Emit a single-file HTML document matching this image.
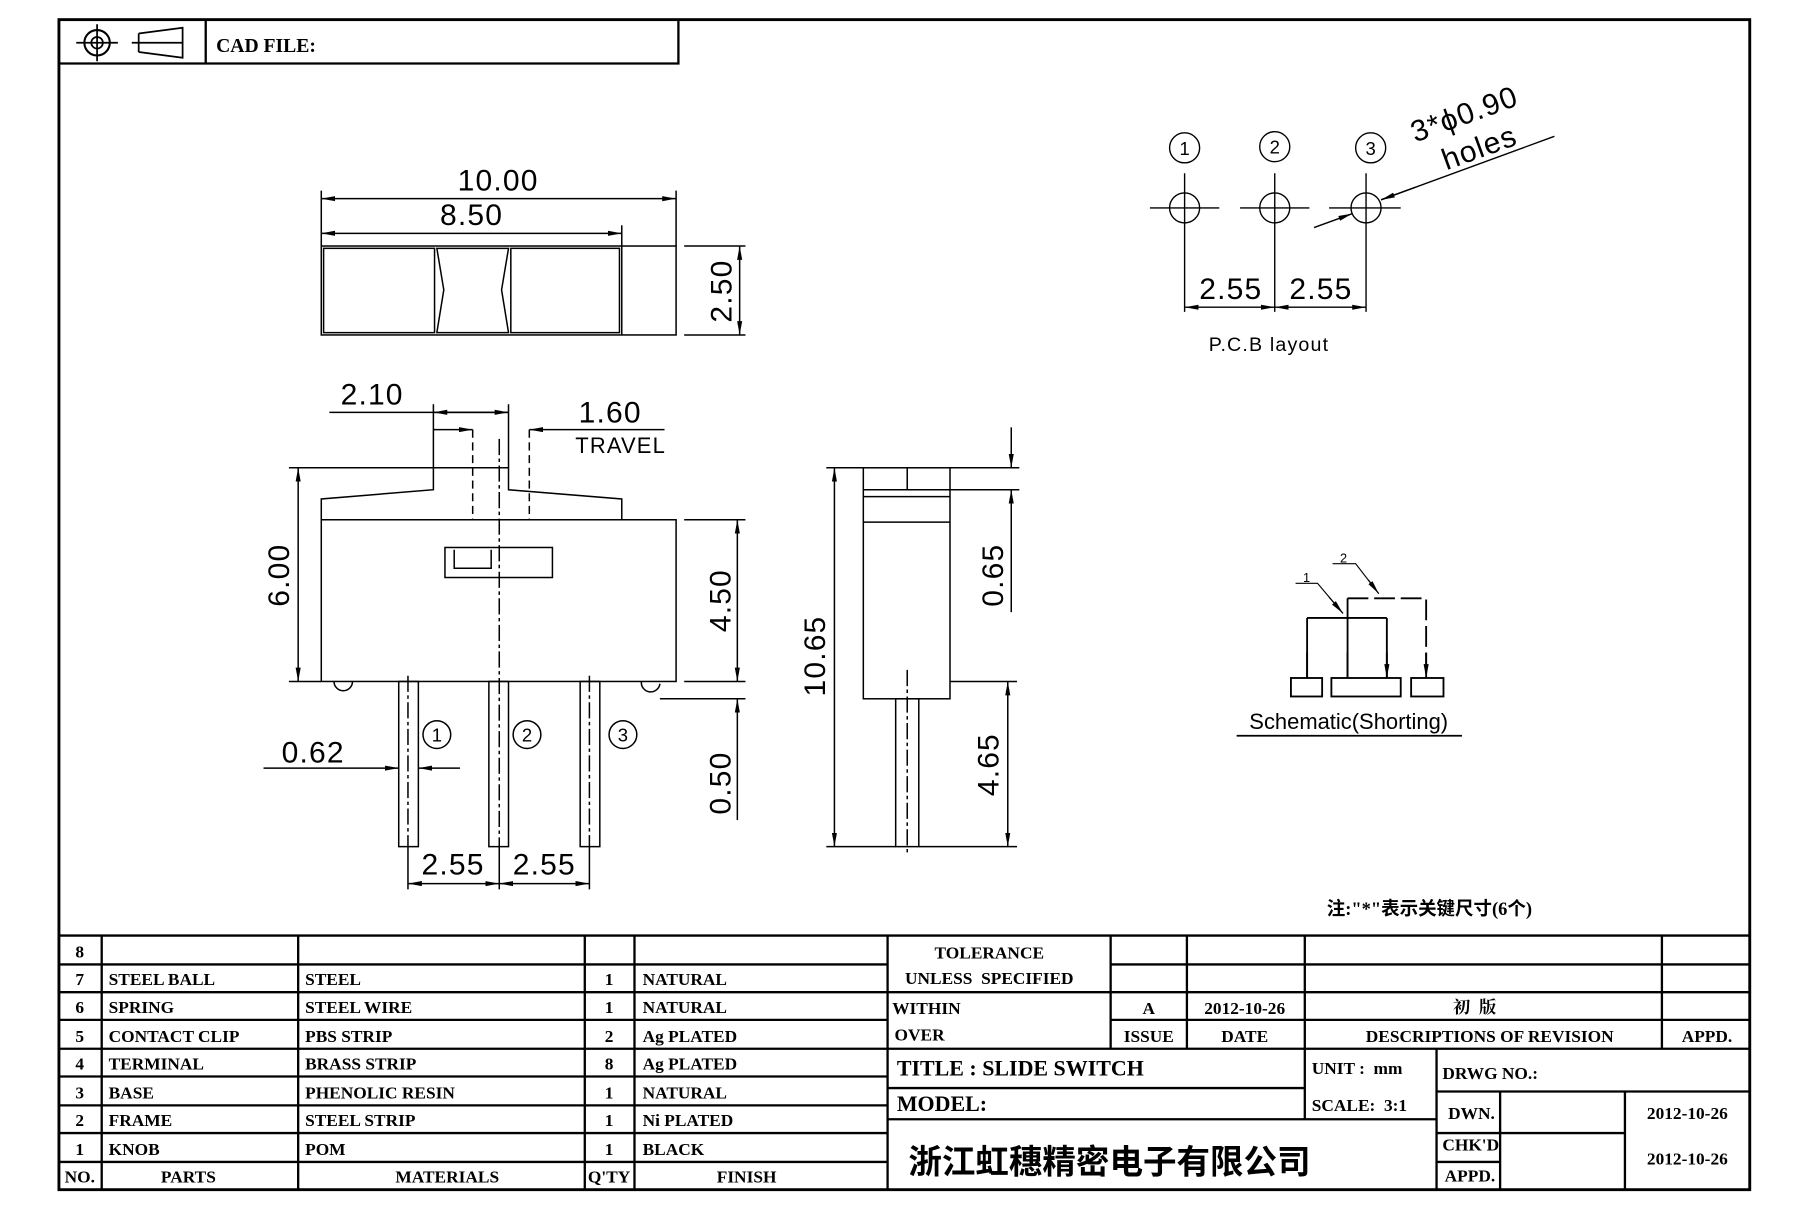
<!DOCTYPE html>
<html><head><meta charset="utf-8"><style>html,body{margin:0;padding:0;background:#fff}svg{display:block}</style></head>
<body>
<svg width="1811" height="1207" viewBox="0 0 1567 1045" preserveAspectRatio="none" xmlns="http://www.w3.org/2000/svg">
<defs>
<marker id="a" viewBox="0 0 12 6" refX="12" refY="3" markerWidth="12" markerHeight="6" markerUnits="userSpaceOnUse" orient="auto"><path d="M0,0.8 L12,3 L0,5.2z" fill="#000"/></marker>
<marker id="b" viewBox="0 0 12 6" refX="0" refY="3" markerWidth="12" markerHeight="6" markerUnits="userSpaceOnUse" orient="auto"><path d="M12,0.8 L0,3 L12,5.2z" fill="#000"/></marker>
</defs>
<rect width="1567" height="1045" fill="#fff"/>
<g fill="none" stroke="#000">
<rect x="51" y="17" width="1463" height="1013" stroke-width="2.5"/>
<path d="M51 55H587V17M178 17V55" stroke-width="2"/>
<circle cx="84" cy="37" r="11" stroke-width="1.8"/><circle cx="84" cy="37" r="5" stroke-width="1.5"/>
<path d="M66 37H102M84 21V53M114 37H158M120 29V45M120 29L158 24V50L120 45" stroke-width="1.5"/>

<g stroke-width="1.3">
<rect x="278" y="213" width="307" height="77"/>
<path d="M538 213V290"/>
<rect x="280" y="215" width="96" height="73"/>
<rect x="442" y="215" width="94" height="73"/>
<path d="M378 215H440L434 251L440 288H378L384 251Z"/>
<path d="M278 213V165M585 213V165M538 213V195"/>
<path d="M278 172H585" marker-start="url(#b)" marker-end="url(#a)"/>
<path d="M278 202H538" marker-start="url(#b)" marker-end="url(#a)"/>
<path d="M592 213H645M592 290H645"/>
<path d="M640 213V290" marker-start="url(#b)" marker-end="url(#a)"/>
</g>

<g stroke-width="1.3">
<rect x="278" y="450" width="307" height="140"/>
<path d="M278 450V432L375 424V405H440V424L538 432V450"/>
<path d="M409 372V450M458 372V450" stroke-dasharray="7 4"/>
<path d="M375 350V405M440 350V405"/>
<path d="M285 357H440" /><path d="M375 357H440" marker-start="url(#b)" marker-end="url(#a)"/>
<path d="M375 372H409" marker-end="url(#a)"/><path d="M575 372H458" marker-end="url(#a)"/>
<rect x="385" y="474" width="93" height="26"/>
<path d="M393 476V492H425V476"/>
<path d="M432 380V735" stroke-dasharray="14 3 3 3"/>
<rect x="345" y="590" width="17" height="143"/>
<rect x="423" y="590" width="17" height="143"/>
<rect x="502" y="590" width="17" height="143"/>
<path d="M353 585V735M510 585V735" stroke-dasharray="14 3 3 3"/>
<path d="M289 590A8 8 0 0 0 305 590M555 590A8 8 0 0 0 571 592"/>
<path d="M250 405H375M250 590H278"/>
<path d="M258 405V590" marker-start="url(#b)" marker-end="url(#a)"/>
<path d="M592 450H645M592 590H645M571 605H645"/>
<path d="M638 450V590" marker-start="url(#b)" marker-end="url(#a)"/>
<path d="M638 710V605" marker-end="url(#a)"/>
<path d="M228 665H345" marker-end="url(#a)"/><path d="M398 665H362" marker-end="url(#a)"/>
<path d="M353 735V770M432 735V770M510 735V770"/>
<path d="M353 765H432" marker-start="url(#b)" marker-end="url(#a)"/>
<path d="M432 765H510" marker-start="url(#b)" marker-end="url(#a)"/>
<circle cx="378" cy="636" r="12"/><circle cx="456" cy="636" r="12"/><circle cx="539" cy="636" r="12"/>
</g>

<g stroke-width="1.3">
<rect x="747" y="405" width="75" height="200"/>
<path d="M747 424H822M747 430H822M747 452H822M785 405V424"/>
<rect x="775" y="605" width="20" height="128"/>
<path d="M785 580V740" stroke-dasharray="14 3 3 3"/>
<path d="M715 405H747M715 733H775"/>
<path d="M722 405V733" marker-start="url(#b)" marker-end="url(#a)"/>
<path d="M822 405H882M822 424H882M822 590H880M795 733H880"/>
<path d="M875 370V405" marker-end="url(#a)"/><path d="M875 530V424" marker-end="url(#a)"/>
<path d="M872 590V733" marker-start="url(#b)" marker-end="url(#a)"/>
</g>

<g stroke-width="1.2">
<circle cx="1025" cy="180" r="13"/><circle cx="1103" cy="180" r="13"/><circle cx="1182" cy="180" r="13"/>
<path d="M995 180H1055M1073 180H1133M1150 180H1212M1025 150V270M1103 150V270M1182 150V270"/>
<circle cx="1025" cy="128" r="13"/><circle cx="1103" cy="127" r="13"/><circle cx="1186" cy="128" r="13"/>
<path d="M1025 266H1103" marker-start="url(#b)" marker-end="url(#a)"/>
<path d="M1103 266H1182" marker-start="url(#b)" marker-end="url(#a)"/>
<path d="M1345 118L1195 173" /><path d="M1225 162L1195 173" marker-end="url(#a)"/>
<path d="M1137 197L1170 185" marker-end="url(#a)"/>
</g>

<g stroke-width="1.6">
<rect x="1117" y="587" width="27" height="16"/><rect x="1152" y="587" width="60" height="16"/><rect x="1221" y="587" width="28" height="16"/>
<path d="M1131 535H1200M1131 535V587M1200 535V587M1166 518V587" />
<path d="M1131 565V587M1166 565V587M1200 565V587" marker-end="url(#a)"/>
<path d="M1166 518H1234V587" stroke-dasharray="18 5"/>
<path d="M1234 565V587" marker-end="url(#a)"/>
<path d="M1121 505H1140L1162 531" stroke-width="1"/><path d="M1150 517L1162 531" stroke-width="1" marker-end="url(#a)"/>
<path d="M1153 488H1173L1193 514" stroke-width="1"/><path d="M1184 502L1193 514" stroke-width="1" marker-end="url(#a)"/>
<path d="M1070 637H1265" stroke-width="1.5"/>
</g>

<g stroke-width="2">
<path d="M51 810H1514"/>
<path d="M51 835H768M51 859H768M51 883H768M51 908H768M51 932H768M51 957H768M51 981H768M51 1006H768"/>
<path d="M961 835H1514M768 859H1514M961 883H1514M768 908H1514"/>
<path d="M768 942H1129M768 969H1243M1243 945H1514M1243 981H1298M1243 1006H1298M1298 981H1406"/>
<path d="M88 810V1030M258 810V1030M506 810V1030M549 810V1030M768 810V1030"/>
<path d="M961 810V908M1027 810V908M1129 810V969M1438 810V908M1243 908V1030M1298 945V1030M1406 945V1030"/>
</g>
</g>

<g font-family="Liberation Sans, sans-serif" font-size="26" fill="#000" letter-spacing="1">
<text x="431" y="165" text-anchor="middle">10.00</text>
<text x="408" y="195" text-anchor="middle">8.50</text>
<text transform="translate(633 252) rotate(-90)" text-anchor="middle">2.50</text>
<text x="322" y="350" text-anchor="middle">2.10</text>
<text x="528" y="366" text-anchor="middle">1.60</text>
<text x="537" y="392" text-anchor="middle" font-size="19">TRAVEL</text>
<text transform="translate(250 498) rotate(-90)" text-anchor="middle">6.00</text>
<text transform="translate(632 520) rotate(-90)" text-anchor="middle">4.50</text>
<text transform="translate(632 678) rotate(-90)" text-anchor="middle">0.50</text>
<text x="271" y="660" text-anchor="middle">0.62</text>
<text x="392" y="757" text-anchor="middle">2.55</text>
<text x="471" y="757" text-anchor="middle">2.55</text>
<text transform="translate(714 568) rotate(-90)" text-anchor="middle">10.65</text>
<text transform="translate(868 498) rotate(-90)" text-anchor="middle">0.65</text>
<text transform="translate(864 662) rotate(-90)" text-anchor="middle">4.65</text>
<text x="1065" y="259" text-anchor="middle">2.55</text>
<text x="1143" y="259" text-anchor="middle">2.55</text>
<text transform="translate(1270 107) rotate(-20)" text-anchor="middle">3*ϕ0.90</text>
<text transform="translate(1283 136) rotate(-20)" text-anchor="middle">holes</text>
<g font-size="16" text-anchor="middle" letter-spacing="0">
<text x="378" y="642">1</text><text x="456" y="642">2</text><text x="539" y="642">3</text>
<text x="1025" y="134">1</text><text x="1103" y="133">2</text><text x="1186" y="134">3</text>
</g>
<text x="1098" y="304" text-anchor="middle" font-size="17">P.C.B layout</text>
<text x="1167" y="631" text-anchor="middle" font-size="19" letter-spacing="0">Schematic(Shorting)</text>
<text x="1131" y="504" text-anchor="middle" font-size="11">1</text>
<text x="1163" y="487" text-anchor="middle" font-size="11">2</text>
</g>

<g font-family="Liberation Serif, 'Noto Serif CJK SC', serif" font-weight="bold" font-size="15" fill="#000">
<text x="187" y="45" font-size="17">CAD FILE:</text>
<text x="1148" y="792" font-family="Liberation Serif, 'Noto Sans CJK SC', sans-serif" font-size="16">注:"*"表示关键尺寸(6个)</text>
<g text-anchor="middle"><text x="69" y="829">8</text><text x="69" y="853">7</text><text x="69" y="877">6</text><text x="69" y="902">5</text><text x="69" y="926">4</text><text x="69" y="951">3</text><text x="69" y="975">2</text><text x="69" y="1000">1</text><text x="69" y="1024">NO.</text>
<text x="527" y="853">1</text><text x="527" y="877">1</text><text x="527" y="902">2</text><text x="527" y="926">8</text><text x="527" y="951">1</text><text x="527" y="975">1</text><text x="527" y="1000">1</text><text x="527" y="1024">Q'TY</text>
<text x="163" y="1024">PARTS</text><text x="387" y="1024">MATERIALS</text><text x="646" y="1024">FINISH</text>
<text x="856" y="830">TOLERANCE</text><text x="856" y="852">UNLESS&#160;&#160;SPECIFIED</text>
<text x="994" y="878">A</text><text x="1077" y="878">2012-10-26</text>
<text x="1276" y="877" font-family="'Noto Serif CJK SC', serif">初&#160;&#160;版</text>
<text x="994" y="902">ISSUE</text><text x="1077" y="902">DATE</text><text x="1289" y="902">DESCRIPTIONS OF REVISION</text><text x="1477" y="902">APPD.</text>
<text x="1460" y="969">2012-10-26</text><text x="1460" y="1008">2012-10-26</text>
</g>
<text x="94" y="853">STEEL BALL</text><text x="94" y="877">SPRING</text><text x="94" y="902">CONTACT CLIP</text><text x="94" y="926">TERMINAL</text><text x="94" y="951">BASE</text><text x="94" y="975">FRAME</text><text x="94" y="1000">KNOB</text>
<text x="264" y="853">STEEL</text><text x="264" y="877">STEEL WIRE</text><text x="264" y="902">PBS STRIP</text><text x="264" y="926">BRASS STRIP</text><text x="264" y="951">PHENOLIC RESIN</text><text x="264" y="975">STEEL STRIP</text><text x="264" y="1000">POM</text>
<text x="556" y="853">NATURAL</text><text x="556" y="877">NATURAL</text><text x="556" y="902">Ag PLATED</text><text x="556" y="926">Ag PLATED</text><text x="556" y="951">NATURAL</text><text x="556" y="975">Ni PLATED</text><text x="556" y="1000">BLACK</text>
<text x="772" y="878">WITHIN</text><text x="774" y="901">OVER</text>
<text x="776" y="931" font-size="19">TITLE : SLIDE SWITCH</text>
<text x="776" y="962" font-size="19">MODEL:</text>
<text x="1135" y="930">UNIT :&#160;&#160;mm</text>
<text x="1135" y="962">SCALE:&#160;&#160;3:1</text>
<text x="1248" y="934">DRWG NO.:</text>
<text x="1253" y="969">DWN.</text><text x="1248" y="996">CHK'D</text><text x="1250" y="1023">APPD.</text>
</g>
<text x="786" y="1016" font-family="'Noto Sans CJK SC', sans-serif" font-weight="bold" font-size="29" fill="#000">浙江虹穗精密电子有限公司</text>
</svg>
</body></html>
